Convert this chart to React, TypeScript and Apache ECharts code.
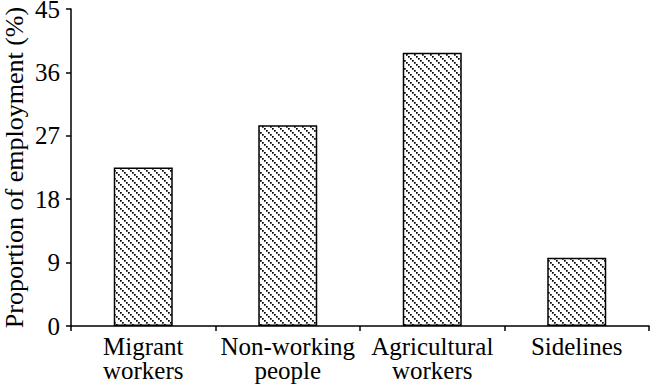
import React, { useEffect, useRef } from "react";
import * as echarts from "echarts";

const categories = ["Migrant\nworkers", "Non-working\npeople", "Agricultural\nworkers", "Sidelines"];
const values = [22.5, 28.5, 38.8, 9.7];
const yTicks = { min: 0, max: 45, interval: 9 };
const yTickValues = [0, 9, 18, 27, 36, 45];
const yName = "Proportion of employment (%)";

const FONT = "serif";

function hatchUrl(): string {
  let rects = "";
  for (let k = -2; k < 10; k += 2) {
    rects += `<rect x="${k}" y="${k}" width="1.7" height="1.7" fill="#000"/>`;
  }
  const svg = `<svg xmlns="http://www.w3.org/2000/svg" width="8" height="8"><rect width="8" height="8" fill="#fff"/>${rects}</svg>`;
  return "data:image/svg+xml;base64," + btoa(svg);
}

export default function App() {
  const ref = useRef<HTMLDivElement>(null);
  useEffect(() => {
    if (!ref.current) return;
    const chart = echarts.init(ref.current, undefined, { renderer: "svg" });
    const pattern: any = { image: hatchUrl(), repeat: "repeat", imageWidth: 8, imageHeight: 8 };
    chart.setOption({
      animation: false,
      backgroundColor: "#fff",
      textStyle: { fontFamily: FONT },
      grid: { left: 71, right: 1, top: 9, bottom: 64, containLabel: false, outerBoundsMode: "none" },
      xAxis: {
        type: "category",
        data: categories,
        boundaryGap: true,
        axisLine: { lineStyle: { color: "#000", width: 1.5 } },
        axisTick: { show: true, length: 5, inside: false, lineStyle: { color: "#000", width: 1.5 } },
        axisLabel: { show: false },
      },
      yAxis: {
        type: "value",
        min: yTicks.min,
        max: yTicks.max,
        interval: yTicks.interval,
        name: yName,
        nameLocation: "middle",
        nameGap: 44,
        nameTextStyle: { color: "#000", fontFamily: FONT, fontSize: 26 },
        splitLine: { show: false },
        axisLine: { show: true, lineStyle: { color: "#000", width: 1.5 } },
        axisTick: { show: true, length: 5, inside: false, lineStyle: { color: "#000", width: 1.5 } },
        axisLabel: { show: false },
      },
      series: [
        {
          type: "bar",
          data: values,
          barWidth: 59,
          itemStyle: { color: pattern, borderColor: "#000", borderWidth: 1.5 },
        },
      ],
    });

    try {
      const p0 = chart.convertToPixel({ gridIndex: 0 }, [0, 0]) as number[];
      const p1 = chart.convertToPixel({ gridIndex: 0 }, [1, 0]) as number[];
      const band = p1[0] - p0[0];
      const axisX = p0[0] - band / 2;
      const baseY = p0[1];
      const elements: any[] = [];
      categories.forEach((c, i) => {
        const p = chart.convertToPixel({ gridIndex: 0 }, [i, 0]) as number[];
        elements.push({
          type: "text",
          x: p[0],
          y: baseY + 8,
          silent: true,
          style: {
            text: c,
            fontFamily: FONT,
            fontSize: 25,
            lineHeight: 24,
            fill: "#000",
            align: "center",
            textAlign: "center",
            verticalAlign: "top",
            textVerticalAlign: "top",
          },
        });
      });
      yTickValues.forEach((v) => {
        const p = chart.convertToPixel({ gridIndex: 0 }, [0, v]) as number[];
        elements.push({
          type: "text",
          x: axisX - 11,
          y: p[1],
          silent: true,
          style: {
            text: String(v),
            fontFamily: FONT,
            fontSize: 25,
            fill: "#000",
            align: "right",
            textAlign: "right",
            verticalAlign: "middle",
            textVerticalAlign: "middle",
          },
        });
      });
      chart.setOption({ graphic: elements });
    } catch (e) {
      // keep chart as is
    }
    return () => chart.dispose();
  }, []);
  return (
    <div
      ref={ref}
      style={{ position: "fixed", left: 0, top: 0, width: 650, height: 390, background: "#fff" }}
    />
  );
}
